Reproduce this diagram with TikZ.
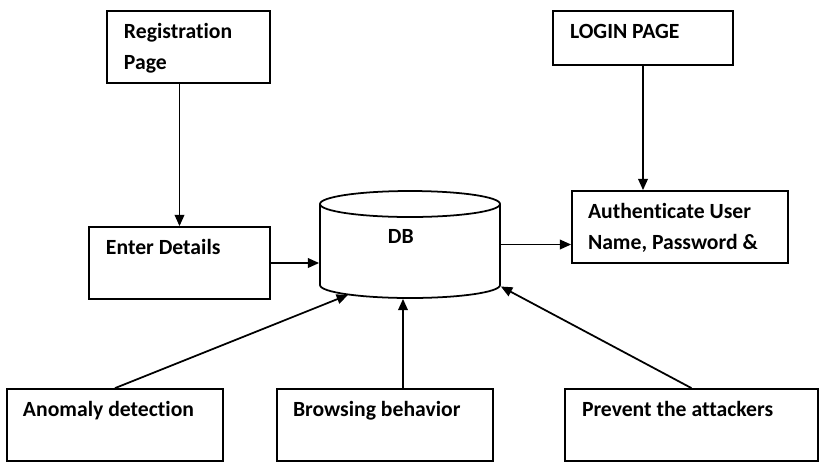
\documentclass[tikz,border=0pt]{standalone}
\usepackage{fontspec}
\setmainfont[Ligatures=NoCommon]{Carlito}
\usetikzlibrary{arrows.meta,calc}
\begin{document}
\begin{tikzpicture}[x=0.03cm,y=-0.03cm,line width=1.5pt,
  >={Triangle[length=3.4mm,width=2.9mm]},
  box/.style={draw,rectangle,minimum width=6.48cm,minimum height=2.16cm,inner sep=0},
  lbl/.style={anchor=base west,inner sep=0,align=left,font=\fontsize{18.5}{26.5}\selectfont\bfseries}]
\useasboundingbox (0,0) rectangle (824,468);
\node[box,minimum width=4.89cm] (reg) at (188.5,47) {};
\node[box,minimum width=5.4cm,minimum height=1.62cm] (login) at (643,38) {};
\node[box,minimum width=5.43cm] (enter) at (179.5,263) {};
\node[box] (auth) at (680,227) {};
\node[box] (anomaly) at (115,425) {};
\node[box] (browse) at (385,425) {};
\node[box,minimum width=7.59cm] (prevent) at (691.5,425) {};
\node[minimum width=5.4cm,minimum height=3.21cm,inner sep=0] (DB) at (410,244.5) {};
\draw (410,204) ellipse [x radius=2.7cm,y radius=0.39cm];
\draw (320,204) -- (320,285) arc[start angle=180,end angle=360,x radius=2.7cm,y radius=0.39cm] -- (500,204);
\node[lbl] (reglbl) at ($(reg.north west)+(17,59)$) {Registration\\Page};
\node[lbl] (loginlbl) at ($(login.north west)+(17,28)$) {LOGIN PAGE};
\node[lbl] (enterlbl) at ($(enter.north west)+(17,28)$) {Enter Details};
\node[lbl] (authlbl) at ($(auth.north west)+(16,59)$) {Authenticate User\\Name, Password \&};
\node[lbl] (anomalylbl) at ($(anomaly.north west)+(16,28)$) {Anomaly detection};
\node[lbl] (browselbl) at ($(browse.north west)+(16,28)$) {Browsing behavior};
\node[lbl] (preventlbl) at ($(prevent.north west)+(17,28)$) {Prevent the attackers};
\node[lbl] (dblbl) at (387,243) {DB};
\draw[->] (reg.south -| enter.north) -- (enter.north);
\draw[->] (login.south) -- (auth.north -| login.south);
\draw[->] (enter.east) -- (enter.east -| DB.west);
\draw[->] (DB.east) -- (DB.east -| auth.west);
\draw[->] (anomaly.north) -- ($(DB.south)+(-62,-4)$);
\draw[->] ($(browse.north)+(18,0)$) -- ($(DB.south)+(-7,0)$);
\draw[->] (prevent.north) -- ($(DB.east)+(0,42)$);
\end{tikzpicture}
\end{document}
